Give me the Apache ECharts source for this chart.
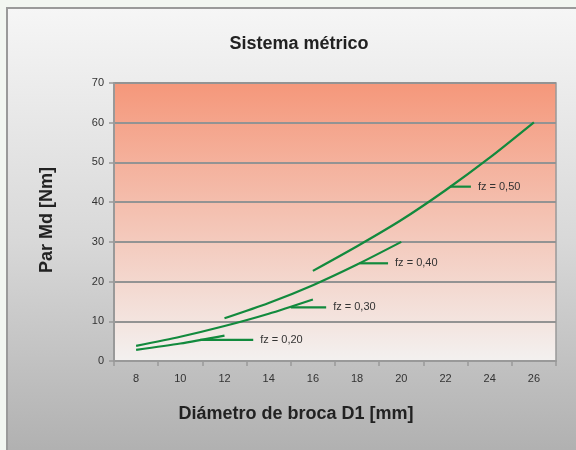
<!DOCTYPE html>
<html>
<head>
<meta charset="utf-8">
<script src="https://cdn.jsdelivr.net/npm/echarts@6/dist/echarts.min.js"></script>
<style>
  html, body { margin: 0; padding: 0; }
  #chart { width: 576px; height: 450px; }
</style>
</head>
<body>
<div id="chart"></div>
<script>
// ---- data ----
const xCategories = ['8', '10', '12', '14', '16', '18', '20', '22', '24', '26'];
const dia020 = [8, 10, 12];
const md020 = [2.8, 4.4, 6.4];
const dia030 = [8, 10, 12, 14, 16];
const md030 = [3.8, 6.1, 8.8, 11.9, 15.5];
const dia040 = [12, 14, 16, 18, 20];
const md040 = [10.75, 14.6, 19.1, 24.3, 30.0];
const dia050 = [16, 18, 20, 22, 24, 26];
const md050 = [22.7, 28.9, 35.5, 43.0, 51.2, 60.1];
const curveNames = ['fz = 0,20', 'fz = 0,30', 'fz = 0,40', 'fz = 0,50'];
const leaderStart = [10.9, 15.0, 18.1, 22.2];
const leaderEnd = [13.3, 16.6, 19.4, 23.15];
const leaderMd = [5.3, 13.5, 24.6, 43.9];
const chartTitle = 'Sistema métrico';
const xTitle = 'Diámetro de broca D1 [mm]';
const yTitle = 'Par Md [Nm]';

const FONT = '"Liberation Sans", Arial, sans-serif';
const GREEN = '#128a3d';

function pairs(xs, ys) { return xs.map((x, i) => [x, ys[i]]); }

const curves = [[dia020, md020], [dia030, md030], [dia040, md040], [dia050, md050]];

const series = [];
curves.forEach((c, i) => {
  series.push({
    type: 'line', xAxisIndex: 1, yAxisIndex: 0,
    data: pairs(c[0], c[1]),
    smooth: 0.25, symbol: 'none',
    lineStyle: { color: GREEN, width: 2.2 },
    z: 3
  });
});
leaderMd.forEach((y, i) => {
  series.push({
    type: 'line', name: curveNames[i], xAxisIndex: 1, yAxisIndex: 0,
    data: [[leaderStart[i], y], [leaderEnd[i], y]],
    symbol: 'none',
    lineStyle: { color: GREEN, width: 2.2 },
    endLabel: { show: true, formatter: '{a}', distance: 7, color: '#333', fontSize: 11, fontFamily: FONT },
    z: 3
  });
});

const chart = echarts.init(document.getElementById('chart'));
chart.setOption({
  animation: false,
  backgroundColor: '#f2f6f1',
  graphic: [
    {
      type: 'rect', z: -10, silent: true,
      shape: { x: 7, y: 8, width: 640, height: 520 },
      style: {
        fill: new echarts.graphic.LinearGradient(0, 0, 0, 1, [
          { offset: 0, color: '#f6f6f6' },
          { offset: 0.45, color: '#d8d8d8' },
          { offset: 1, color: '#a2a2a2' }
        ]),
        stroke: '#9a9a9a', lineWidth: 2
      }
    },
    {
      type: 'text', x: 299, y: 44, z: 10,
      style: { text: chartTitle, font: 'bold 18px ' + FONT, fill: '#222', textAlign: 'center', textVerticalAlign: 'middle' }
    },
    {
      type: 'text', x: 296, y: 414, z: 10,
      style: { text: xTitle, font: 'bold 18px ' + FONT, fill: '#222', textAlign: 'center', textVerticalAlign: 'middle' }
    },
    {
      type: 'text', x: 47, y: 220, rotation: Math.PI / 2, z: 10,
      style: { text: yTitle, font: 'bold 18px ' + FONT, fill: '#222', textAlign: 'center', textVerticalAlign: 'middle' }
    }
  ],
  grid: {
    left: 114, right: 20, top: 83, bottom: 89,
    show: true,
    borderColor: '#999', borderWidth: 1.5,
    backgroundColor: new echarts.graphic.LinearGradient(0, 0, 0, 1, [
      { offset: 0, color: '#f5977a' },
      { offset: 1, color: '#f3f1f0' }
    ])
  },
  xAxis: [
    {
      type: 'category', data: xCategories, boundaryGap: true,
      axisLine: { lineStyle: { color: '#999', width: 2 } },
      axisTick: { show: true, length: 5, lineStyle: { color: '#999', width: 1.5 } },
      axisLabel: { color: '#333', fontSize: 11, fontFamily: FONT, margin: 12 },
      splitLine: { show: false }
    },
    {
      type: 'value', min: 7, max: 27, show: false
    }
  ],
  yAxis: {
    type: 'value', min: 0, max: 70, interval: 10,
    axisLine: { show: true, lineStyle: { color: '#999', width: 2 } },
    axisTick: { show: true, length: 5, lineStyle: { color: '#999', width: 1.5 } },
    axisLabel: { color: '#333', fontSize: 11, fontFamily: FONT, margin: 10 },
    splitLine: { show: true, lineStyle: { color: '#939393', width: 2 } }
  },
  series: series
});
</script>
</body>
</html>
